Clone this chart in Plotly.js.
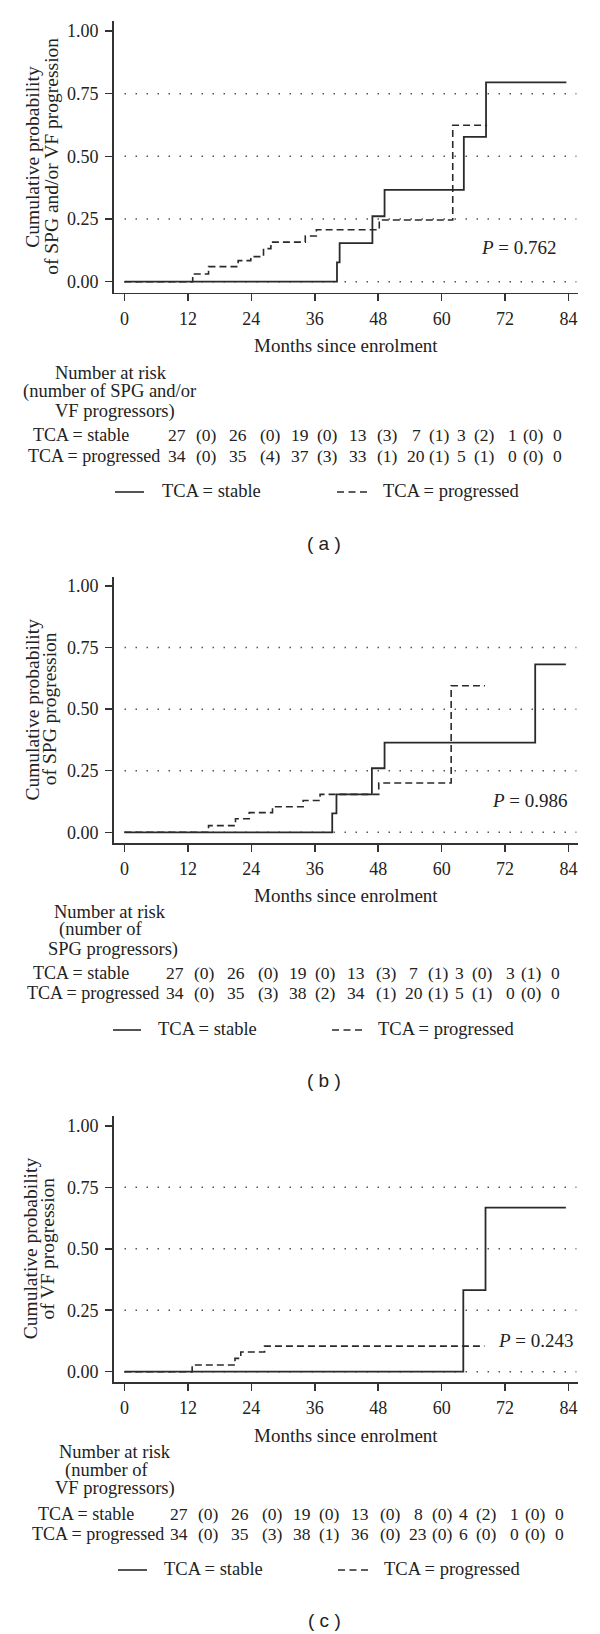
<!DOCTYPE html>
<html><head><meta charset="utf-8">
<script src="https://cdn.plot.ly/plotly-3.0.1.min.js"></script>
<style>html,body{margin:0;padding:0;background:#fff}</style>
</head><body><div id="chart" style="width:600px;height:1634px"></div>
<script>
// ---------------- DATA ----------------
const monthTicks = [0, 12, 24, 36, 48, 60, 72, 84];
const probTicks = [0, 0.25, 0.5, 0.75, 1];
const gridVals = [0, 0.25, 0.5, 0.75];
const xAxisTitle = "Months since enrolment";
const legendLabels = ["TCA = stable", "TCA = progressed"];
const groupLabels = ["TCA = stable", "TCA = progressed"];

// (a) SPG and/or VF progression
const aStableT = [0, 40.2, 40.7, 46.9, 49.2, 64.2, 68.4, 83.6];
const aStableP = [0, 0.077, 0.154, 0.261, 0.366, 0.578, 0.795, 0.795];
const aProgT = [0, 12.9, 15.9, 21.5, 23.9, 26.3, 27.7, 34.2, 36.3, 48.2, 62.1, 68.6];
const aProgP = [0, 0.031, 0.060, 0.084, 0.100, 0.132, 0.158, 0.182, 0.207, 0.246, 0.624, 0.624];
const aYTitle = ["Cumulative probability", "of SPG and/or VF progression"];
const aRiskHead = ["Number at risk", "(number of SPG and/or", "VF progressors)"];
const aStableN = [27, 26, 19, 13, 7, 3, 1, 0];
const aStableE = [0, 0, 0, 3, 1, 2, 0];
const aProgN = [34, 35, 37, 33, 20, 5, 0, 0];
const aProgE = [0, 4, 3, 1, 1, 1, 0];
const aP = "0.762";
const aCaption = "( a )";

// (b) SPG progression
const bStableT = [0, 39.3, 40.1, 46.8, 49.2, 77.7, 83.5];
const bStableP = [0, 0.077, 0.154, 0.260, 0.364, 0.682, 0.682];
const bProgT = [0, 15.9, 21.0, 23.6, 28.0, 33.8, 37.0, 48.1, 61.8, 68.2];
const bProgP = [0, 0.027, 0.055, 0.080, 0.104, 0.129, 0.154, 0.200, 0.595, 0.595];
const bYTitle = ["Cumulative probability", "of SPG progression"];
const bRiskHead = ["Number at risk", "(number of", "SPG progressors)"];
const bStableN = [27, 26, 19, 13, 7, 3, 3, 0];
const bStableE = [0, 0, 0, 3, 1, 0, 1];
const bProgN = [34, 35, 38, 34, 20, 5, 0, 0];
const bProgE = [0, 3, 2, 1, 1, 1, 0];
const bP = "0.986";
const bCaption = "( b )";

// (c) VF progression
const cStableT = [0, 64.1, 68.3, 83.5];
const cStableP = [0, 0.332, 0.667, 0.667];
const cProgT = [0, 12.8, 20.9, 22.0, 26.5, 68.1];
const cProgP = [0, 0.027, 0.054, 0.080, 0.104, 0.104];
const cYTitle = ["Cumulative probability", "of VF progression"];
const cRiskHead = ["Number at risk", "(number of", "VF progressors)"];
const cStableN = [27, 26, 19, 13, 8, 4, 1, 0];
const cStableE = [0, 0, 0, 0, 0, 2, 0];
const cProgN = [34, 35, 38, 36, 23, 6, 0, 0];
const cProgE = [0, 3, 1, 0, 0, 0, 0];
const cP = "0.243";
const cCaption = "( c )";

// ---------------- LAYOUT GEOMETRY (pixels) ----------------
const W = 600, H = 1634;
const SERIF = "Liberation Serif, Times New Roman, serif";
const INK = "#222";
const AX = {left: 113.5, x0: 124.5, x84: 568.5, right: 578};
const countCols = [177, 237.5, 300, 357.5, 416, 461.5, 512.5, 557.5];
const eventCols = [206, 270, 327, 388, 440, 484, 533.5];

const geo = [
  {top: 20.7, y100: 31, y0: 281.7, bottom: 292.5, titleX: [32.4, 51.5], xTitleY: 345,
   head: [[52.7, 372.5], [21, 391.5], [53.4, 411]], rowY: [435, 456], labX: [31, 26], colOff: 0,
   legY: 492, leg: [115, 144, 160, 337, 367, 381], capY: 543, pX: 479, pY: 248},
  {top: 576.7, y100: 586, y0: 832.3, bottom: 843.3, titleX: [32.4, 49], xTitleY: 895,
   head: [[51.5, 911.7], [57, 929.5], [46, 949]], rowY: [972.7, 993.5], labX: [30.5, 24.5], colOff: -2,
   legY: 1030, leg: [113, 141, 156.5, 332, 363, 376], capY: 1080, pX: 490, pY: 800},
  {top: 1116, y100: 1125.8, y0: 1371.7, bottom: 1382.3, titleX: [30.5, 47.7], xTitleY: 1435,
   head: [[57, 1451.7], [63, 1470], [53, 1488.3]], rowY: [1514, 1534], labX: [36, 30], colOff: 2,
   legY: 1570, leg: [118, 147, 162, 338, 368, 382], capY: 1620, pX: 496, pY: 1340.7}
];

const panels = [
  {st: aStableT, sp: aStableP, pt: aProgT, pp: aProgP, yt: aYTitle, head: aRiskHead,
   sn: aStableN, se: aStableE, pn: aProgN, pe: aProgE, p: aP, cap: aCaption},
  {st: bStableT, sp: bStableP, pt: bProgT, pp: bProgP, yt: bYTitle, head: bRiskHead,
   sn: bStableN, se: bStableE, pn: bProgN, pe: bProgE, p: bP, cap: bCaption},
  {st: cStableT, sp: cStableP, pt: cProgT, pp: cProgP, yt: cYTitle, head: cRiskHead,
   sn: cStableN, se: cStableE, pn: cProgN, pe: cProgE, p: cP, cap: cCaption}
];

const fx = x => x / W;
const fy = y => 1 - y / H;

const traces = [];
const annotations = [];
const shapes = [];
const layout = {
  width: W, height: H, autosize: false,
  margin: {l: 0, r: 0, t: 0, b: 0},
  paper_bgcolor: "#fff", plot_bgcolor: "#fff",
  showlegend: false,
  font: {family: SERIF, color: INK, size: 18}
};

const pxPerMonth = (AX.x84 - AX.x0) / 84;
const xRange = [(AX.left - AX.x0) / pxPerMonth, (AX.right - AX.x0) / pxPerMonth];

function ann(text, x, y, xanchor, extra) {
  annotations.push(Object.assign({
    text: text, xref: "paper", yref: "paper", x: fx(x), y: fy(y),
    xanchor: xanchor || "left", yanchor: "middle", showarrow: false,
    font: {family: SERIF, size: 18.5, color: INK}
  }, extra || {}));
}

panels.forEach((pn, i) => {
  const g = geo[i];
  const sfx = i === 0 ? "" : String(i + 1);
  const xa = "x" + sfx, ya = "y" + sfx;
  const unit = g.y0 - g.y100;
  const yRange = [-(g.bottom - g.y0) / unit, 1 + (g.y100 - g.top) / unit];

  layout["xaxis" + sfx] = {
    domain: [fx(AX.left), fx(AX.right)], anchor: ya, range: xRange,
    tickvals: monthTicks, ticks: "outside", ticklen: 7, tickwidth: 1.5, tickcolor: "#333",
    showline: true, linecolor: "#333", linewidth: 1.5, showgrid: false, zeroline: false,
    tickfont: {family: SERIF, size: 18, color: INK}, ticklabelstandoff: 2, fixedrange: true
  };
  layout["yaxis" + sfx] = {
    domain: [fy(g.bottom), fy(g.top)], anchor: xa, range: yRange,
    tickvals: probTicks, tickformat: ".2f", ticks: "outside", ticklen: 7, tickwidth: 1.5, tickcolor: "#333",
    showline: true, linecolor: "#333", linewidth: 1.5, showgrid: false, zeroline: false,
    tickfont: {family: SERIF, size: 18, color: INK}, ticklabelstandoff: 3, fixedrange: true
  };

  traces.push({x: pn.st, y: pn.sp, xaxis: xa, yaxis: ya, type: "scatter", mode: "lines",
    line: {shape: "hv", color: "#2a2a2a", width: 1.8}, name: legendLabels[0], hoverinfo: "skip"});
  traces.push({x: pn.pt, y: pn.pp, xaxis: xa, yaxis: ya, type: "scatter", mode: "lines",
    line: {shape: "hv", color: "#2a2a2a", width: 1.6, dash: "7px,4px"}, name: legendLabels[1], hoverinfo: "skip"});

  gridVals.forEach(v => shapes.push({type: "line", layer: "below", xref: xa, yref: ya,
    x0: 0, x1: xRange[1] - 0.3, y0: v, y1: v, line: {color: "#555", width: 1.5, dash: "1.5px,9.5px"}}));

  // y-axis title (two lines)
  const midY = (g.y100 + g.y0) / 2;
  pn.yt.forEach((t, k) => ann(t, g.titleX[k], midY, "center", {textangle: -90, font: {family: SERIF, size: 19.5, color: INK}}));

  // x-axis title
  ann(xAxisTitle, (AX.left + AX.right) / 2, g.xTitleY, "center", {font: {family: SERIF, size: 19, color: INK}});

  // number at risk header
  pn.head.forEach((t, k) => ann(t, g.head[k][0], g.head[k][1], "left"));

  // risk rows (numbers centred in their columns)
  const numFont = {family: SERIF, size: 17.5, color: INK};
  const labFont = {family: SERIF, size: 18, color: INK};
  [[pn.sn, pn.se], [pn.pn, pn.pe]].forEach((row, r) => {
    const y = g.rowY[r];
    ann(groupLabels[r], g.labX[r], y, "left", {font: labFont});
    row[0].forEach((n, k) => ann(String(n), countCols[k] + g.colOff, y, "center", {font: numFont}));
    row[1].forEach((e, k) => ann("(" + e + ")", eventCols[k] + g.colOff, y, "center", {font: numFont}));
  });

  // legend
  const L = g.leg;
  shapes.push({type: "line", xref: "paper", yref: "paper", x0: fx(L[0]), x1: fx(L[1]), y0: fy(g.legY), y1: fy(g.legY),
    line: {color: "#2a2a2a", width: 1.6}});
  ann(legendLabels[0], L[2], g.legY - 1, "left");
  shapes.push({type: "line", xref: "paper", yref: "paper", x0: fx(L[3]), x1: fx(L[4]), y0: fy(g.legY), y1: fy(g.legY),
    line: {color: "#2a2a2a", width: 1.6, dash: "7px,4.5px"}});
  ann(legendLabels[1], L[5], g.legY - 1, "left");

  // P value
  ann("<i>P</i> = " + pn.p, g.pX, g.pY, "left", {font: {family: SERIF, size: 19, color: INK}});

  // caption
  ann(pn.cap, 324, g.capY, "center", {font: {family: "Liberation Sans, Arial, sans-serif", size: 19, color: INK}});
});

layout.annotations = annotations;
layout.shapes = shapes;

Plotly.newPlot("chart", traces, layout, {staticPlot: true, displayModeBar: false});
</script>
</body></html>
